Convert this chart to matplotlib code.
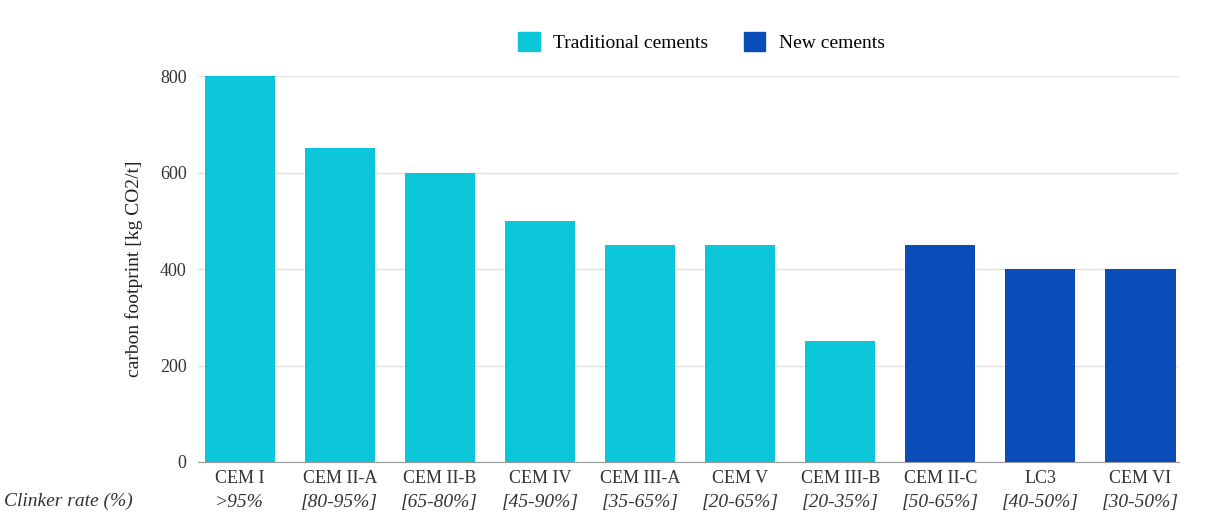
import matplotlib.pyplot as plt
import numpy as np
from matplotlib.patches import Patch

plt.rcParams['font.family'] = ['Liberation Serif', 'DejaVu Serif']

cements = ["CEM I", "CEM II-A", "CEM II-B", "CEM IV", "CEM III-A", "CEM V",
           "CEM III-B", "CEM II-C", "LC3", "CEM VI"]
clinker = [">95%", "[80-95%]", "[65-80%]", "[45-90%]", "[35-65%]", "[20-65%]",
           "[20-35%]", "[50-65%]", "[40-50%]", "[30-50%]"]
footprint = [800, 650, 600, 500, 450, 450, 250, 450, 400, 400]
is_new = [False, False, False, False, False, False, False, True, True, True]

C_TRAD = "#0BC6D8"
C_NEW = "#0B4DB8"

fig = plt.figure(figsize=(12.2, 5.28), dpi=100)
ax = fig.add_axes([0.162, 0.125, 0.804, 0.731])

x = np.arange(len(cements))
colors = [C_NEW if n else C_TRAD for n in is_new]
ax.bar(x, footprint, width=0.7, color=colors, zorder=3)

ax.set_xlim(-0.42, 9.38)
ax.set_ylim(0, 800)
ax.set_yticks([0, 200, 400, 600, 800])
ax.yaxis.grid(True, color="#e3e3e3", linewidth=1, zorder=0)
for s in ["top", "right", "left"]:
    ax.spines[s].set_visible(False)
ax.spines["bottom"].set_color("#999999")
ax.tick_params(axis="both", length=0, labelsize=13, colors="#333333")
ax.tick_params(axis="y", pad=8)
ax.tick_params(axis="x", pad=6)
ax.set_xticks(x)
ax.set_xticklabels(cements)
ax.set_ylabel("carbon footprint [kg CO2/t]", fontsize=14, color="#222222", labelpad=12)

# second row: clinker rate
for xi, lab in zip(x, clinker):
    ax.text(xi, -0.105, lab, transform=ax.get_xaxis_transform(), ha="center", va="center",
            fontsize=14, style="italic", color="#333333")
fig.text(0.003, 0.05, "Clinker rate (%)", ha="left", va="center", fontsize=14,
         style="italic", color="#333333")

handles = [Patch(color=C_TRAD, label="Traditional cements"),
           Patch(color=C_NEW, label="New cements")]
fig.legend(handles=handles, loc="center", bbox_to_anchor=(0.575, 0.92), ncol=2,
           frameon=False, fontsize=14, handlelength=1.1, handleheight=1.1,
           columnspacing=1.8, handletextpad=0.7)

fig.savefig("out.png", dpi=100)
